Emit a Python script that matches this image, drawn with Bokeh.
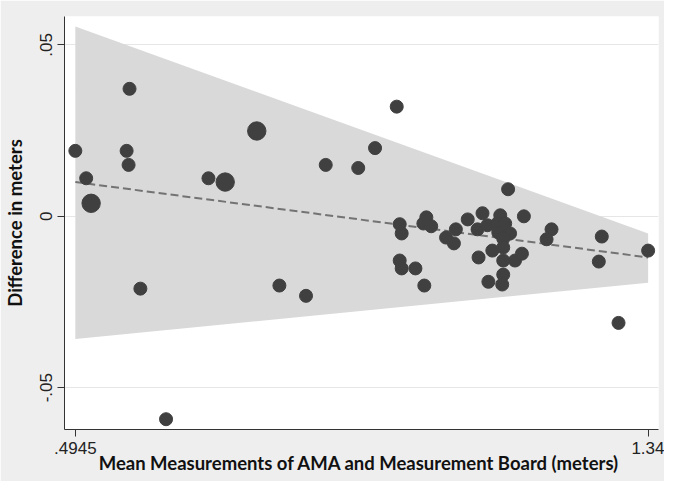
from bokeh.plotting import figure
from bokeh.models import Range1d, FixedTicker, ColumnDataSource
from bokeh.embed import file_html
from bokeh.resources import INLINE
import math

# Mean of AMA and measurement board (meters)
mean_m = [0.4945, 0.5105, 0.5178, 0.5702, 0.5731, 0.5745, 0.5905, 0.6284,
          0.6910, 0.7157, 0.7623, 0.7957, 0.8350, 0.8641, 0.9121, 0.9369,
          0.9689, 0.9733, 0.9762, 0.9733, 0.9762, 0.9965, 1.0096, 1.0126,
          1.0082, 1.0198, 1.0417, 1.0533, 1.0562, 1.0737, 1.0955, 1.0882,
          1.1028, 1.0897, 1.1042, 1.1100, 1.1217, 1.1173, 1.1290, 1.1188,
          1.1362, 1.1261, 1.1261, 1.1261, 1.1261, 1.1246, 1.1333, 1.1435,
          1.1537, 1.1566, 1.1974, 1.1901, 1.2672, 1.2716, 1.2963, 1.3400]
# Difference (meters)
diff_m = [0.0191, 0.0111, 0.0038, 0.0191, 0.0150, 0.0372, -0.0211, -0.0592,
          0.0111, 0.0100, 0.0249, -0.0202, -0.0232, 0.0150, 0.0141, 0.0199,
          0.0320, -0.0023, -0.0050, -0.0129, -0.0152, -0.0152, -0.0202, -0.0003,
          -0.0021, -0.0029, -0.0062, -0.0079, -0.0038, -0.0009, 0.0009, -0.0038,
          -0.0026, -0.0120, -0.0191, -0.0100, 0.0003, -0.0021, -0.0021, -0.0047,
          -0.0050, -0.0065, -0.0091, -0.0129, -0.0170, -0.0199, 0.0079, -0.0129,
          -0.0109, 0.0000, -0.0038, -0.0067, -0.0132, -0.0059, -0.0311, -0.0100]
# Frequency weight of each observation
weight = [1, 1, 2, 1, 1, 1, 1, 1,
          1, 2, 2, 1, 1, 1, 1, 1,
          1, 1, 1, 1, 1, 1, 1, 1,
          1, 1, 1, 1, 1, 1, 1, 1,
          1, 1, 1, 1, 1, 1, 1, 1,
          1, 1, 1, 1, 1, 1, 1, 1,
          1, 1, 1, 1, 1, 1, 1, 1]

# Limits of agreement band and fitted line
band_x = [0.4945, 1.34]
band_upper = [0.0554, -0.0050]
band_lower = [-0.0358, -0.0194]
fit_y = [0.0100, -0.0120]

x_ticks = [0.4945, 1.34]
x_tick_labels = [".4945", "1.34"]
y_ticks = [-0.05, 0.0, 0.05]
y_tick_labels = ["-.05", "0", ".05"]

x_title = "Mean Measurements of AMA and Measurement Board  (meters)"
y_title = "Difference in meters"

p = figure(width=664, height=481, output_backend="svg", toolbar_location=None,
           x_range=Range1d(0.4785, 1.3553), y_range=Range1d(-0.0622, 0.0583),
           min_border_left=55, min_border_right=6, min_border_top=16,
           min_border_bottom=52)
p.background_fill_color = "white"
p.border_fill_color = "#eeeeee"
p.outline_line_color = None

p.varea(x=band_x, y1=band_lower, y2=band_upper, fill_color="#d9d9d9")
p.line(band_x, fit_y, line_color="#737373", line_width=2, line_dash="8 4")

src = ColumnDataSource(dict(x=mean_m, y=diff_m,
                            s=[13 * math.sqrt(w) for w in weight]))
p.scatter("x", "y", size="s", source=src, fill_color="#404040",
          line_color="#404040")

p.xgrid.visible = False
p.ygrid.grid_line_color = "#e6e6e6"
p.ygrid.grid_line_width = 1

p.xaxis.ticker = FixedTicker(ticks=x_ticks)
p.xaxis.major_label_overrides = {t: l for t, l in zip(x_ticks, x_tick_labels)}
p.yaxis.ticker = FixedTicker(ticks=y_ticks)
p.yaxis.major_label_overrides = {t: l for t, l in zip(y_ticks, y_tick_labels)}
p.yaxis.major_label_orientation = "vertical"

for ax in (p.xaxis, p.yaxis):
    ax.minor_tick_line_color = None
    ax.major_tick_in = 0
    ax.major_tick_out = 7
    ax.axis_line_color = "#333333"
    ax.major_tick_line_color = "#333333"
    ax.major_label_text_font = "Liberation Sans"
    ax.major_label_text_font_size = "17px"
    ax.major_label_text_color = "#222222"
    ax.axis_label_text_font = "Lato"
    ax.axis_label_text_font_style = "bold"
    ax.axis_label_text_font_size = "18.5px"
    ax.axis_label_text_color = "#111111"

p.xaxis.major_label_standoff = 5
p.yaxis.major_label_standoff = 5
p.xaxis.axis_label = x_title
p.yaxis.axis_label = y_title
p.xaxis.axis_label_standoff = -5
p.yaxis.axis_label_standoff = 12

open("out.html", "w").write(file_html(p, INLINE))
